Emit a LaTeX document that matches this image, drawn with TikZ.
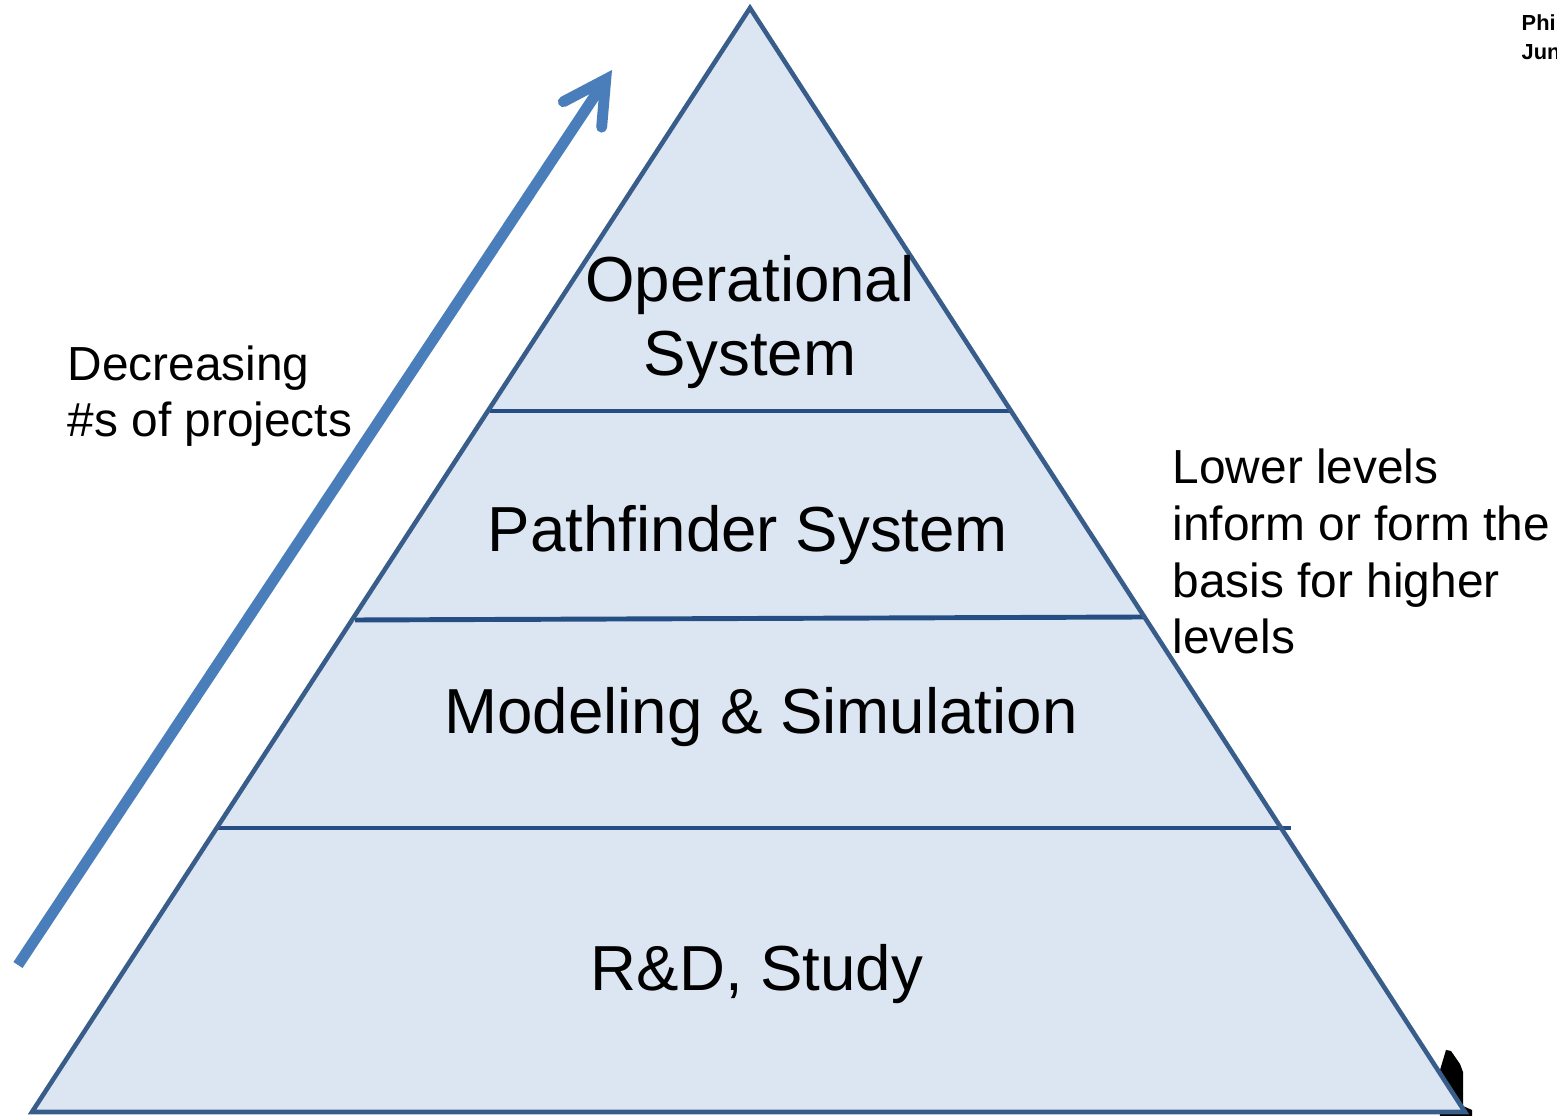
\documentclass[tikz,border=0pt]{standalone}
\usepackage{fontspec}
\setmainfont{Liberation Sans}
\usetikzlibrary{arrows.meta, positioning}
\definecolor{levelfill}{HTML}{DCE6F2}
\definecolor{leveledge}{HTML}{385D8A}
\definecolor{levelline}{HTML}{254F84}
\definecolor{arrowblue}{HTML}{4A7EBB}
\tikzset{
	level/.style={anchor=base, align=center, font=\fontsize{18.1}{21.3}\selectfont},
	% side notes left and right
	note/.style={anchor=base west, align=left, inner sep=0pt, font=\fontsize{13.6}{16.2}\selectfont},
	divider/.style={levelline, line width=1.4pt},
	progress/.style={arrowblue, line width=3.1pt, -{Straight Barb[length=4.2mm, width=4.6mm, line cap=round]}},
}

\begin{document}
\begin{tikzpicture}[x=0.01cm, y=-0.01cm]
		\useasboundingbox (0,0) rectangle (1557,1116);
		
		% cut-off fragment behind the right corner
		\fill[black] (1437,1080) -- (1446,1050) -- (1451,1051) -- (1460,1064) -- (1463,1072) -- (1463,1106) -- (1472,1110) -- (1472,1116) -- (1440,1116) -- cycle;
		
		\coordinate (apex) at (750,8);
		\coordinate (baseL) at (32,1112);
		\coordinate (baseR) at (1465,1112);
		
		\fill[levelfill] (apex) -- (baseL) -- (baseR) -- cycle;
		
		\draw[divider] (490,411) -- (1010,411);
		\draw[divider] (355,620) -- (1143,617);
		\draw[divider] (218,828) -- (1291,828);
		
		\draw[leveledge, line width=1.3pt, line join=miter] (apex) -- (baseL) -- (baseR) -- cycle;
		
		% base anchor sits on the last line
		\node (operational) [level] at (750,376) {Operational\\System};
		\node (pathfinder) [level] at (748,552) {Pathfinder System};
		\node (modeling) [level] at (761,734) {Modeling \& Simulation};
		\node (study) [level] at (757,991) {R\&D, Study};
		
		\node (decreasing) [note] at (67,437) {Decreasing\\\#s of projects};
		\node (lower) [note] at (1172,654) {Lower levels\\inform or form the\\basis for higher\\levels};
		
		\node (phi) [note, font=\bfseries\fontsize{6.2}{8.3}\selectfont] at (1521,60) {Phi\\Jun};
		
		\coordinate (arrowstart) at (18,965);
		\coordinate (arrowtip) at (612,70);
		\draw[progress] (arrowstart) -- (arrowtip);
	\end{tikzpicture}
\end{document}
